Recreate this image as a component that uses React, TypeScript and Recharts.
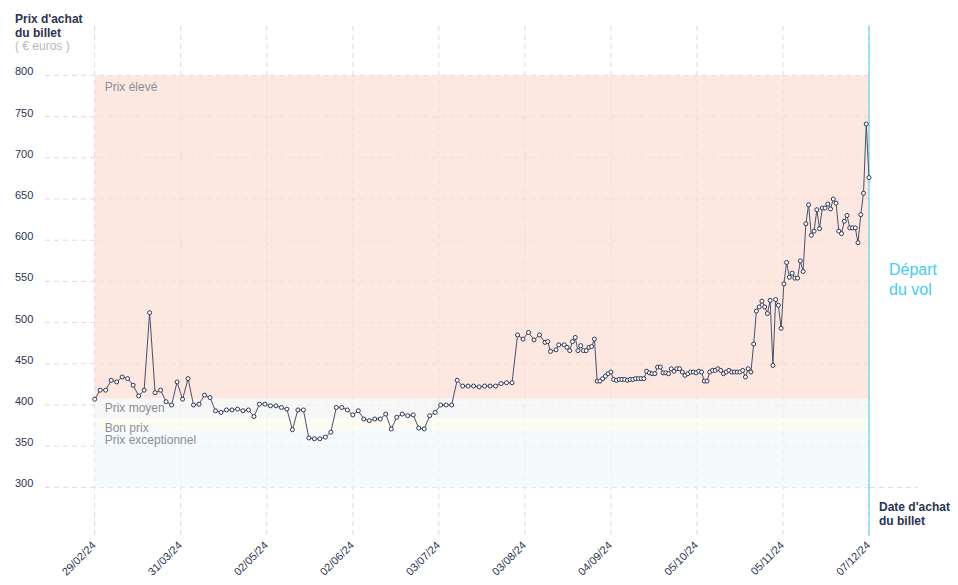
import {
  LineChart,
  Line,
  XAxis,
  YAxis,
  CartesianGrid,
  ReferenceArea,
  ReferenceLine,
} from 'recharts';

// days since the first observation (0 = 29/02/24)
const purchaseDays = [
  0, 2, 4, 6, 8, 10, 12, 14, 16, 18,
  20, 22, 24, 26, 28, 30, 32, 34, 36, 38,
  40, 42, 44, 46, 48, 50, 52, 54, 56, 58,
  60, 62, 64, 66, 68, 70, 72, 74, 76, 78,
  80, 82, 84, 86, 88, 90, 92, 94, 96, 98,
  100, 102, 104, 106, 108, 110, 112, 114, 116, 118,
  120, 122, 124, 126, 128, 130, 132, 134, 136, 138,
  140, 142, 144, 146, 148, 150, 152,
  154, 156, 158, 160, 162, 164, 165, 166, 168, 169,
  171, 172, 173, 174, 175, 176, 177, 178, 179, 180,
  181, 182,
  183, 184, 185, 186, 187, 188, 189, 190, 191, 192,
  193, 194, 195, 196, 197, 198, 199, 200, 201, 202,
  203, 204, 205, 206, 207, 208, 209, 210, 211, 212,
  213, 214, 215, 216, 217, 218, 219, 220, 221, 222,
  223, 224, 225, 226, 227, 228, 229, 230, 231, 232,
  233, 234, 235, 236, 237, 238, 239, 240, 241, 242,
  243, 244, 245, 246, 247, 248, 249, 250, 251, 252,
  253, 254, 255, 256, 257, 258, 259, 260, 261, 262,
  263, 264, 265, 266, 267, 268, 269, 270, 271, 272,
  273, 274, 275, 276, 277, 278, 279, 280, 281, 282,
];

const ticketPrices = [
  407, 418, 418, 430, 428, 434, 432, 424, 411, 418,
  512, 415, 418, 404, 400, 428, 407, 432, 400, 401,
  412, 409, 393, 391, 394, 394, 395, 393, 394, 386,
  401, 401, 399, 399, 397, 395, 370, 394, 394, 360,
  359, 359, 361, 367, 397, 397, 394, 388, 393, 383,
  381, 383, 383, 389, 371, 385, 389, 387, 388, 372,
  371, 387, 391, 400, 400, 400, 430, 423, 423, 423,
  422, 423, 423, 423, 426, 427, 427,
  485, 480, 488, 479, 485, 476, 477, 465, 467, 473,
  473, 470, 466, 477, 482, 466, 472, 466, 466, 470,
  471, 480,
  429, 429, 432, 435, 438, 440, 431, 430, 431, 431,
  431, 430, 431, 431, 432, 432, 432, 432, 441, 439,
  438, 438, 446, 446, 439, 439, 438, 444, 441, 444,
  444, 440, 436, 438, 440, 440, 439, 441, 440, 429,
  429, 440, 442, 442, 444, 442, 438, 440, 442, 440,
  440, 440, 440, 442, 434, 444, 440, 474, 514, 519,
  526, 519, 511, 527, 448, 528, 521, 493, 547, 573,
  555, 560, 554, 554, 575, 562, 620, 643, 606, 611,
  637, 614, 639, 639, 644, 638, 650, 645, 611, 608,
  623, 630, 615, 615, 615, 597, 631, 657, 741, 676,
];

const dateLabels = [
  '29/02/24', '31/03/24', '02/05/24', '02/06/24', '03/07/24',
  '03/08/24', '04/09/24', '05/10/24', '05/11/24', '07/12/24',
];
const departureDay = 282;

const priceTicks = [300, 350, 400, 450, 500, 550, 600, 650, 700, 750, 800];

// price bands, bottom to top
const bandNames = ['Prix exceptionnel', 'Bon prix', 'Prix moyen', 'Prix élevé'];
const bandLimits = [300, 370, 384, 408, 800];

const data = purchaseDays.map((day, i) => ({ day, price: ticketPrices[i] }));
const dateTickValues = dateLabels.map((_, i) => (i * departureDay) / (dateLabels.length - 1));

const FONT = '"Liberation Sans", Arial, sans-serif';
const NAVY = '#2b3350';
const GRID = '#dcdcdc';
const BAND_FILLS = ['#eef9fc', '#fbfbee', '#f4f4f4', '#fcddd4'];

const PriceTick = ({ y, payload }: any) => (
  <text x={15} y={y} fill={NAVY} fontSize={11} fontFamily={FONT}>
    {payload.value}
  </text>
);

const DateTick = ({ x, index }: any) => {
  const ax = x + 2;
  const ay = 546;
  return (
    <text
      x={ax}
      y={ay}
      transform={`rotate(-45 ${ax} ${ay})`}
      textAnchor="end"
      fill={NAVY}
      fontSize={11}
      fontFamily={FONT}
    >
      {dateLabels[index]}
    </text>
  );
};

const bandLabel = (name: string, top: boolean) => ({ viewBox }: any) => (
  <text
    x={viewBox.x + 10}
    y={viewBox.y + (top ? 16 : 14)}
    fill="#8b8e98"
    fontSize={12}
    fontFamily={FONT}
  >
    {name}
  </text>
);

const DepartureLabel = ({ viewBox }: any) => (
  <g fontFamily={FONT} fontSize={16} fill="#45ccf0">
    <text x={viewBox.x + 20} y={275}>Départ</text>
    <text x={viewBox.x + 20} y={295}>du vol</text>
  </g>
);

export default function App() {
  return (
    <div style={{ position: 'absolute', left: 0, top: 0, width: 958, height: 585 }}>
      <LineChart
        width={958}
        height={585}
        data={data}
        margin={{ top: 26, right: 89, bottom: 48, left: 44 }}
      >
        {bandNames.map((name, i) => (
          <ReferenceArea
            key={name}
            x1={0}
            x2={departureDay}
            y1={bandLimits[i]}
            y2={bandLimits[i + 1]}
            fill={BAND_FILLS[i]}
            fillOpacity={0.7}
            stroke="none"
            label={{ content: bandLabel(name, i === bandNames.length - 1) }}
          />
        ))}
        <CartesianGrid stroke={GRID} strokeDasharray="5 4" syncWithTicks />
        <XAxis
          dataKey="day"
          type="number"
          domain={[-18.1, departureDay]}
          ticks={dateTickValues}
          tick={<DateTick />}
          axisLine={false}
          tickLine={false}
          height={1}
          interval={0}
        />
        <YAxis
          type="number"
          domain={[241, 860]}
          ticks={priceTicks}
          tick={<PriceTick />}
          axisLine={false}
          tickLine={false}
          width={1}
          interval={0}
        />
        <ReferenceLine
          x={departureDay}
          stroke="#45ccf0"
          strokeWidth={1}
          label={<DepartureLabel />}
        />
        <Line
          type="linear"
          dataKey="price"
          stroke="#4a5168"
          strokeWidth={1}
          dot={{ r: 2, fill: '#ffffff', stroke: '#2d3654', strokeWidth: 1 }}
          activeDot={false}
          isAnimationActive={false}
        />
      </LineChart>
      <svg
        width={958}
        height={585}
        style={{ position: 'absolute', left: 0, top: 0, pointerEvents: 'none' }}
        fontFamily={FONT}
      >
        {/* the 300 gridline runs on past the departure line */}
        <line x1={870} y1={487.4} x2={918} y2={487.4} stroke={GRID} strokeDasharray="5 4" />
        <text x={15} y={23} fontSize={12} fontWeight="bold" fill={NAVY}>Prix d'achat</text>
        <text x={15} y={37} fontSize={12} fontWeight="bold" fill={NAVY}>du billet</text>
        <text x={15} y={50} fontSize={12} fill="#b8b8b8">( € euros )</text>
        <text x={879} y={511} fontSize={12} fontWeight="bold" fill={NAVY}>Date d'achat</text>
        <text x={879} y={525} fontSize={12} fontWeight="bold" fill={NAVY}>du billet</text>
      </svg>
    </div>
  );
}
